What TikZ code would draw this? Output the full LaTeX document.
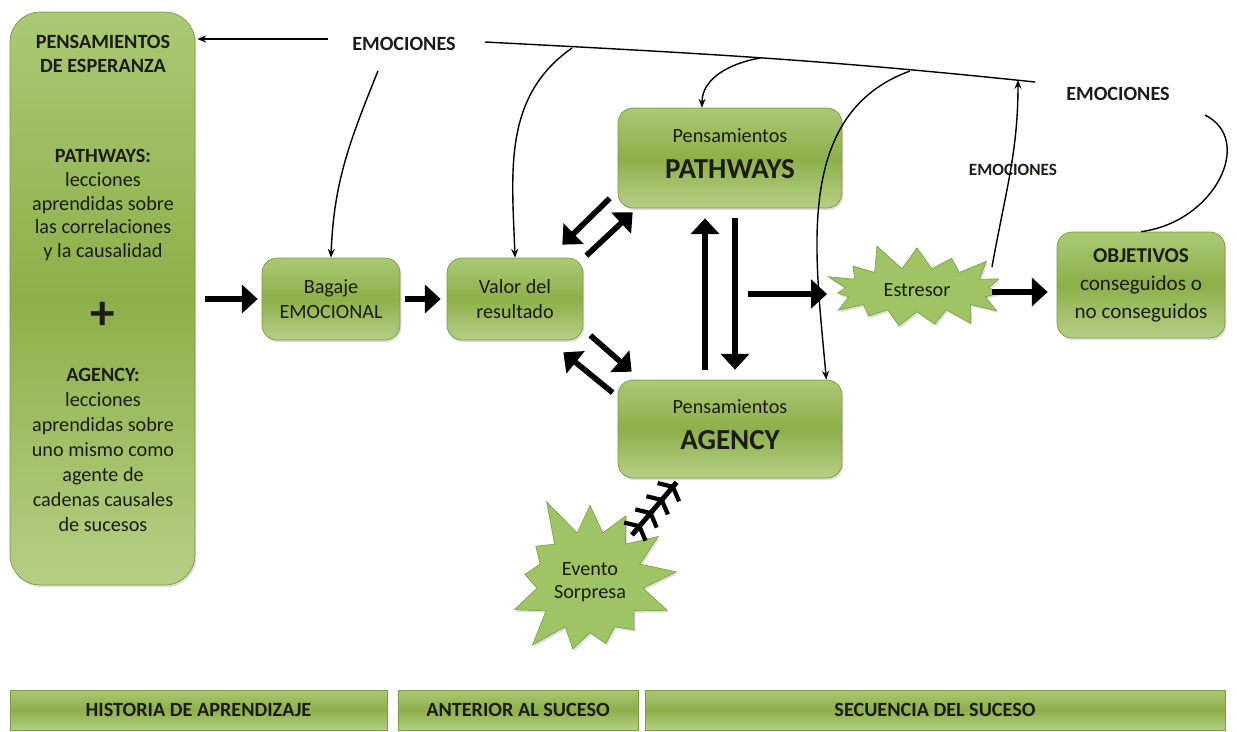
\documentclass[tikz,border=0pt]{standalone}
\usepackage{fontspec}
\setmainfont{Carlito}
\usetikzlibrary{shapes.symbols,arrows.meta,calc,shadows,decorations.markings}

\definecolor{boxtop}{HTML}{A9C974}
\definecolor{boxmid}{HTML}{8DB04A}
\definecolor{boxbot}{HTML}{B5CF85}
\definecolor{boxline}{HTML}{7C9A43}
\definecolor{burst}{HTML}{9EC465}
\definecolor{burstline}{HTML}{7FA548}
\definecolor{inktext}{HTML}{1C1C14}

\begin{document}
\begin{tikzpicture}[x=0.02cm, y=-0.02cm,
  box/.style={draw=boxline, rounded corners=0.3cm, top color=boxtop, bottom color=boxbot, middle color=boxmid,
    drop shadow={opacity=0.25, shadow xshift=0.8pt, shadow yshift=-1.2pt},
    text=inktext, align=center, font=\fontsize{11.5}{14.5}\selectfont},
  bar/.style={draw=boxline, top color=boxtop, bottom color=boxbot, middle color=boxmid, minimum height=0.8cm,
    text=inktext, font=\fontsize{11.5}{14}\selectfont\bfseries},
  burst/.style={starburst, draw=burstline, fill=burst, text=inktext, align=center,
    drop shadow={opacity=0.25, shadow xshift=0.8pt, shadow yshift=-1.2pt},
    font=\fontsize{11.5}{13.5}\selectfont},
  txt/.style={text=inktext, align=center, font=\fontsize{11.5}{13.6}\selectfont},
  emo/.style={text=inktext, font=\fontsize{11.5}{14}\selectfont\bfseries},
  flow/.style={line width=0.8pt, -{Stealth[length=5pt, width=4pt]}},
  fat/.style={line width=3.2pt, -{Triangle[length=9pt, width=16pt]}},
  barbed/.style={line width=2.8pt, postaction={decorate}, decoration={markings,
    mark=between positions 0.2 and 0.95 step 0.25 with {\arrow{Straight Barb[length=4pt, width=16pt, line width=2.4pt]}}}}]
  \useasboundingbox (0,0) rectangle (1237,731);

  % historia de aprendizaje
  \node[box, rounded corners=0.6cm, minimum width=3.7cm, minimum height=11.46cm] (esperanza) at (102.5,298.5) {};
  \node[txt, font=\fontsize{11.5}{13.6}\selectfont\bfseries] (titulo) at (103,54) {PENSAMIENTOS\\DE ESPERANZA};
  \node[txt] (lecpath) at (103,205) {\textbf{PATHWAYS:}\\lecciones\\aprendidas sobre\\las correlaciones\\y la causalidad};
  \node[txt, font=\fontsize{28}{28}\selectfont\bfseries] (mas) at (103,316) {+};
  \node[txt, font=\fontsize{11.5}{14.3}\selectfont] (lecagen) at (103,450) {\textbf{AGENCY:}\\lecciones\\aprendidas sobre\\uno mismo como\\agente de\\cadenas causales\\de sucesos};

  \node[box, minimum width=2.76cm, minimum height=1.64cm] (bagaje) at (331,299) {Bagaje\\EMOCIONAL};
  \node[box, minimum width=2.72cm, minimum height=1.64cm] (valor) at (515,299) {Valor del\\resultado};
  \node[box, minimum width=4.48cm, minimum height=2cm] (pathways) at (730,158) {Pensamientos\\[6pt]{\fontsize{16.5}{20}\selectfont\bfseries PATHWAYS}\\[-9pt]};
  \node[box, minimum width=4.48cm, minimum height=1.96cm] (agency) at (730,429) {Pensamientos\\[6pt]{\fontsize{16.5}{20}\selectfont\bfseries AGENCY}\\[-9pt]};
  \node[box, minimum width=3.36cm, minimum height=2.12cm, font=\fontsize{12}{15.9}\selectfont] (objetivos) at (1141,285) {\textbf{OBJETIVOS}\\conseguidos o\\no conseguidos};

  \node[burst, inner xsep=10pt, inner ysep=5pt, starburst points=15, starburst point height=0.55cm, random starburst=11] (estresor) at (917,290) {Estresor};
  \node[burst, inner xsep=1pt, inner ysep=9pt, starburst points=13, starburst point height=0.85cm, random starburst=5] (evento) at (590,582) {Evento\\Sorpresa};

  \node[bar, minimum width=7.54cm] (historia) at (198.5,710) {HISTORIA DE APRENDIZAJE};
  \node[bar, minimum width=4.8cm] (anterior) at (518,710) {ANTERIOR AL SUCESO};
  \node[bar, minimum width=11.6cm] (secuencia) at (935,710) {SECUENCIA DEL SUCESO};

  \node[emo] (emo1) at (404,44) {EMOCIONES};
  \node[emo] (emo2) at (1118,94) {EMOCIONES};
  \node[emo, font=\fontsize{9.8}{12}\selectfont\bfseries] (emo3) at (1013,170) {EMOCIONES};

  \coordinate (l0) at (485,42);
  \coordinate (l1) at (1035,82);
  \coordinate (c1) at (572,48);
  \coordinate (c2) at (760,58);
  \coordinate (c3) at (910,71);
  \coordinate (c4) at (1018,80);
  \coordinate (c5) at (1205,115);
  \coordinate (mid) at ($(pathways.south)!0.5!(agency.north)+(18,0)$);

  % emociones
  \draw[flow] ($(emo1.west)+(-18,-5)$) -- ($(emo1.west -| esperanza.east)+(2,-5)$);
  \draw[flow] ($(emo1.south)+(-26,14)$) to[out=-112, in=88] (bagaje.north);
  \draw[line width=0.8pt] (l0) to[out=-3, in=174] (l1);
  \draw[flow] (c1) to[out=215, in=92] (valor.north);
  \draw[flow] (c2) to[out=190, in=90] ($(pathways.north)+(-28,0)$);
  \draw[flow] (c3) to[out=200, in=95] ($(agency.north east)+(-16,0)$);
  \draw[flow] ($(estresor.center)+(75,-23)$) to[out=80, in=-90] (c4);
  \draw[line width=0.8pt] (objetivos.north) .. controls (1215,222) and (1255,140) .. (c5);

  % secuencia
  \draw[fat] ($(esperanza.east |- bagaje.west)+(10,0)$) -- ($(bagaje.west)+(-4,0)$);
  \draw[fat] ($(bagaje.east)+(5,0)$) -- ($(valor.west)+(-6,0)$);
  \draw[fat] ($(pathways.south west)+(-8,-10)$) -- ($(valor.north east)+(-21,-13)$);
  \draw[fat] ($(valor.north east)+(3,-2)$) -- ($(pathways.south west)+(15,4)$);
  \draw[fat] ($(valor.south east)+(7,-5)$) -- ($(agency.north west)+(14,-8)$);
  \draw[fat] ($(agency.north west)+(-5,13)$) -- ($(valor.south east)+(-20,12)$);
  \draw[fat] ($(agency.north)+(-25,-10)$) -- ($(pathways.south)+(-25,10)$);
  \draw[fat] ($(pathways.south)+(5,10)$) -- ($(agency.north)+(5,-10)$);
  \draw[fat] (mid) -- ($(estresor.center |- mid)+(-90,0)$);
  \draw[fat] ($(estresor.center)+(75,2)$) -- ($(objetivos.west)+(-9,7)$);
  \draw[barbed] ($(evento.center)+(42,-47)$) -- ($(agency.south west)+(59,4)$);
\end{tikzpicture}
\end{document}
